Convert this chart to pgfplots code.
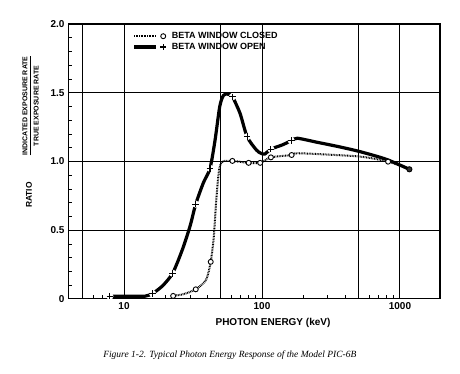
\documentclass[border=0pt]{standalone}
\usepackage{pgfplots}
\pgfplotsset{compat=1.18}
\usepackage{fontspec}
\setmainfont{Liberation Sans}
\newfontfamily\capfont{Liberation Serif}

\pgfplotstableread{
x y
7.9 0.02
8.8 0.02
11 0.02
14.2 0.02
16.1 0.04
19 0.095
22.5 0.187
26.5 0.36
30.1 0.53
33.1 0.69
37.6 0.845
42 0.95
45.6 1.15
49.4 1.40
52.5 1.48
56 1.49
61 1.47
69.3 1.35
78 1.18
91 1.084
98 1.06
105 1.055
116 1.09
140 1.12
163 1.151
180 1.169
250 1.14
370 1.105
520 1.07
795 1.016
1170 0.943
}\openline

\pgfplotstableread{
x y
7.9 0.02
16.1 0.04
22.5 0.187
33.1 0.69
42 0.95
61 1.47
78 1.18
116 1.09
163 1.151
}\openmarks

\pgfplotstableread{
x y
22.7 0.022
27 0.035
33.1 0.07
39.3 0.138
42.5 0.27
44.7 0.45
46.8 0.744
48.9 0.94
51.7 1.0
61 1.004
80 0.99
97 0.99
116 1.03
164 1.047
180 1.06
300 1.05
520 1.035
820 1.0
1170 0.943
}\closedline

\pgfplotstableread{
x y
22.7 0.022
33.1 0.07
42.5 0.27
61 1.004
80 0.99
97 0.99
116 1.03
164 1.047
820 0.9985
}\closedmarks

\begin{document}
\begin{tikzpicture}
\begin{axis}[
  scale only axis, width=372pt, height=275pt,
  xmode=log, xmin=3.93, xmax=1950, ymin=0, ymax=2,
  xtick={5,10,50,100,500,1000}, xticklabels={,10,,100,,1000},
  minor xtick={6,7,8,9,20,30,40,60,70,80,90,200,300,400,600,700,800,900},
  ytick={0,0.5,1,1.5,2}, yticklabels={0,0.5,1.0,1.5,2.0},
  minor ytick={0.1,0.2,0.3,0.4,0.6,0.7,0.8,0.9,1.1,1.2,1.3,1.4,1.6,1.7,1.8,1.9},
  xtick pos=left, ytick pos=left,
  grid=major, major grid style={black, line width=1pt},
  axis line style={line width=1.1pt},
  major tick length=0pt, minor tick length=4pt,
  minor tick style={line width=0.7pt, black},
  tick align=inside,
  ticklabel style={font=\bfseries\fontsize{10}{12}\selectfont},
  /pgf/number format/assume math mode=true,
  clip=false,
  legend style={at={(rel axis cs:0.165,0.985)}, anchor=north west, draw=none, fill=none,
    font=\bfseries\fontsize{9}{10}\selectfont, row sep=-1pt, column sep=3pt},
  legend cell align=left,
]
\addlegendimage{legend image code/.code={
  \draw[line width=2pt, dash pattern=on 0.8pt off 0.8pt] (0pt,0pt) -- (22pt,0pt);
  \draw[line width=0.9pt, fill=white] (29pt,0pt) circle (2.5pt);}}
\addlegendentry{BETA WINDOW CLOSED}
\addlegendimage{legend image code/.code={
  \draw[line width=3.2pt] (0pt,0pt) -- (22pt,0pt);
  \draw[line width=1.1pt] (26pt,0pt) -- (32pt,0pt) (29pt,-3pt) -- (29pt,3pt);}}
\addlegendentry{BETA WINDOW OPEN}

\addplot[black, line width=2pt, dash pattern=on 0.8pt off 0.8pt, smooth, tension=0.4, forget plot] table {\closedline};
\addplot[black, line width=3.2pt, smooth, tension=0.45, forget plot] table {\openline};
\addplot[only marks, mark=*, mark size=3.3pt, white, forget plot] table {\openmarks};
\addplot[only marks, mark=*, mark size=2.5pt, mark options={fill=white, draw=black, line width=0.9pt}, forget plot] table {\closedmarks};
\addplot[only marks, mark=*, mark size=2.6pt, mark options={fill=black!80, draw=black, line width=0.9pt}, forget plot] coordinates {(1170,0.943)};
\addplot[only marks, mark=+, mark size=3.3pt, mark options={line width=1.1pt, black}, forget plot] table {\openmarks};

\node[font=\bfseries\fontsize{10}{12}\selectfont] at (rel axis cs:0.551,-0.087) {PHOTON ENERGY (keV)};
\node[rotate=90, font=\bfseries\fontsize{8.4}{10}\selectfont] at (rel axis cs:-0.105,0.378) {RATIO};
\node[rotate=90, font=\bfseries\fontsize{7}{8}\selectfont, inner sep=0pt] at (rel axis cs:-0.1,0.702)
  {\renewcommand\arraystretch{1.3}\setlength\arrayrulewidth{0.8pt}\begin{tabular}{@{}c@{}}INDICATED EXPOSURE RATE\\ \hline TRUE EXPOSURE RATE\end{tabular}};
\node[font=\capfont\itshape\fontsize{9.5}{11}\selectfont] at (rel axis cs:0.435,-0.204) {Figure 1-2. Typical Photon Energy Response of the Model PIC-6B};

\coordinate (bbl) at (rel axis cs:-0.183,-0.2727);
\coordinate (btr) at (rel axis cs:1.0538,1.0873);
\end{axis}
\pgfresetboundingbox
\useasboundingbox (bbl) rectangle (btr);
\end{tikzpicture}
\end{document}
